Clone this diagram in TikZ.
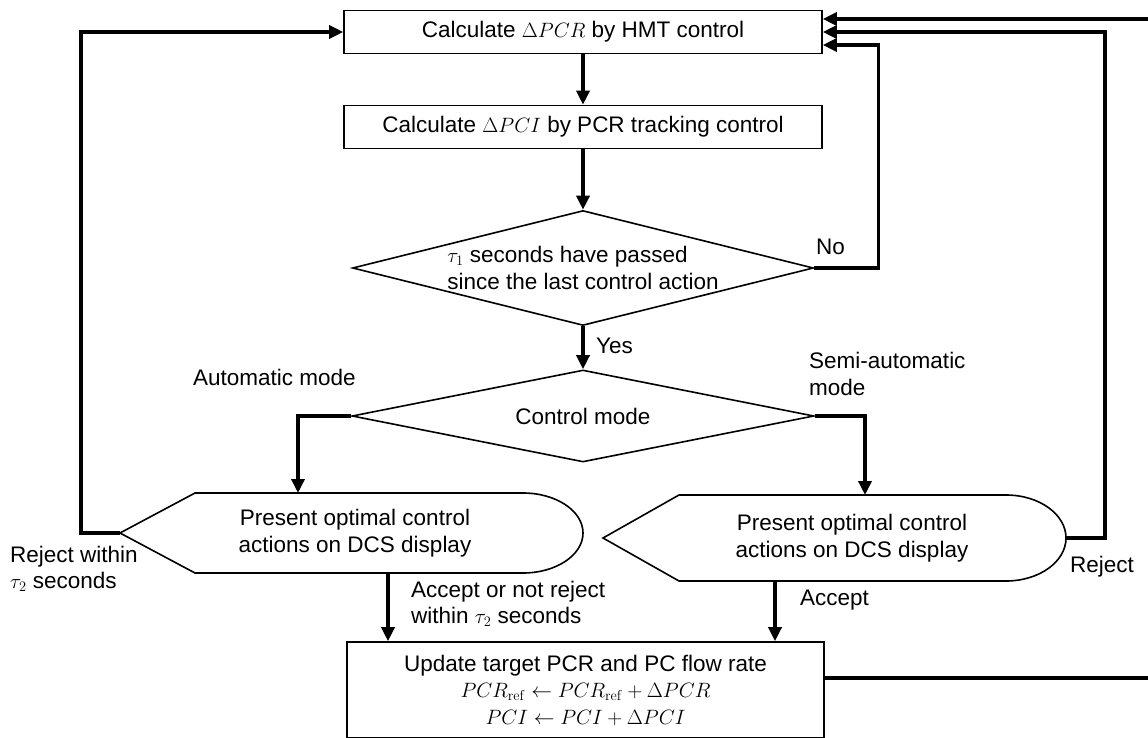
\documentclass[tikz,border=0pt]{standalone}
\usepackage[no-math]{fontspec}
\setmainfont{Liberation Sans}
\usepackage{amsmath}
\usetikzlibrary{shapes.geometric}
\usetikzlibrary{arrows.meta}
\usetikzlibrary{calc}
\tikzstyle{WhiteBody} = [fill=white, draw=black, line width=1.6pt]
\tikzstyle{Box}       = [rectangle, WhiteBody, minimum width = 478pt, minimum height = 43pt, align=center]
\tikzstyle{Decision}  = [diamond, WhiteBody, inner sep = 0pt, align=center]
\tikzstyle{Outline}   = [draw=black, line width=1.6pt]
\tikzstyle{Flow}      = [-{Triangle[length=14pt,width=13pt]}, line width=3.4pt]
\tikzstyle{Label}     = [anchor=west, inner sep=0pt, align=left]

\begin{document}
\begin{tikzpicture}[x=1pt, y=-1pt, font=\fontsize{22.5}{26.5}\selectfont]

\useasboundingbox (0,0) rectangle (1148,738);
\clip (0,0) rectangle (1148,738);

%% ------------------------------------------------------------ [ Calculation ]
\node (calcpcr) [Box] at (583,32) {Calculate $\Delta PCR$ by HMT control};
\node (calcpci) [Box] at (583,127) {Calculate $\Delta PCI$ by PCR tracking control};

\node (passed) [Decision, aspect=4, minimum width=461pt, minimum height=115pt,
                align=left] at (583,268)
      {$\tau_1$ seconds have passed\\since the last control action};

\node (mode) [Decision, aspect=5, minimum width=462pt, minimum height=92pt]
      at (583,416) {Control mode};

%% ---------------------------------------------------------------- [ Display ]
\node (disp1) [align=center] at (355,533) {Present optimal control\\actions on DCS display};
\draw[Outline] (disp1.center) ++(-235,0) coordinate (disp1tip) -- ++(75,-40) -- ++(328,0)
      arc[start angle=90, end angle=0, x radius=60pt, y radius=40pt] coordinate (disp1end)
      arc[start angle=0, end angle=-90, x radius=60pt, y radius=40pt] -- ++(-328,0) -- cycle;

\node (disp2) [align=center] at (852,538) {Present optimal control\\actions on DCS display};
\draw[Outline] (disp2.center) ++(-249,0) coordinate (disp2tip) -- ++(76,-43) -- ++(327,0)
      arc[start angle=90, end angle=0, x radius=60pt, y radius=43pt] coordinate (disp2end)
      arc[start angle=0, end angle=-90, x radius=60pt, y radius=43pt] -- ++(-327,0) -- cycle;

%% ----------------------------------------------------------------- [ Update ]
\node (update) [Box, minimum width=477pt, minimum height=96pt] at (585.5,690)
      {Update target PCR and PC flow rate\\
       $PCR_{\mathrm{ref}} \leftarrow PCR_{\mathrm{ref}} + \Delta PCR$\\
       $PCI \leftarrow PCI + \Delta PCI$};

%% ------------------------------------------------------------------ [ Flows ]
\draw[Flow] (calcpcr) -- (calcpci);
\draw[Flow] (calcpci) -- (passed);
\draw[Flow] (passed) -- (mode);
\draw[Flow] (passed.east) -- ++(64,0) |- ([yshift=-13pt]calcpcr.east);

\draw[Flow] (mode.west) -| ($(disp1.center)+(-57,-40)$);
\draw[Flow] (mode.east) -| ($(disp2.center)+(13,-43)$);

\draw[Flow] (disp1tip) -- ++(-39,0) |- (calcpcr.west);
\draw[Flow] (disp2end) -- ++(39,0) |- (calcpcr.east);

\coordinate (disp1out) at ($(disp1.center)+(33,40)$);
\coordinate (disp2out) at ($(disp2.center)+(-77,43)$);
\draw[Flow] (disp1out) -- (disp1out |- update.north);
\draw[Flow] (disp2out) -- (disp2out |- update.north);

\draw[Flow] ([yshift=12pt]update.east) -- ++(360,0) |- ([yshift=13pt]calcpcr.east);

%% ----------------------------------------------------------------- [ Labels ]
\node (yes)    [Label] at (596,346) {Yes};
\node (no)     [Label] at (816,247) {No};
\node (auto)   [Label] at (193,377) {Automatic mode};
\node (semi)   [Label] at (809,374) {Semi-automatic\\mode};
\node (rejlft) [Label] at (10,569)  {Reject within\\$\tau_2$ seconds};
\node (accnot) [Label] at (411,604) {Accept or not reject\\within $\tau_2$ seconds};
\node (rejrgt) [Label] at (1070,567) {Reject};
\node (accept) [Label] at (800,600) {Accept};

\end{tikzpicture}
\end{document}
